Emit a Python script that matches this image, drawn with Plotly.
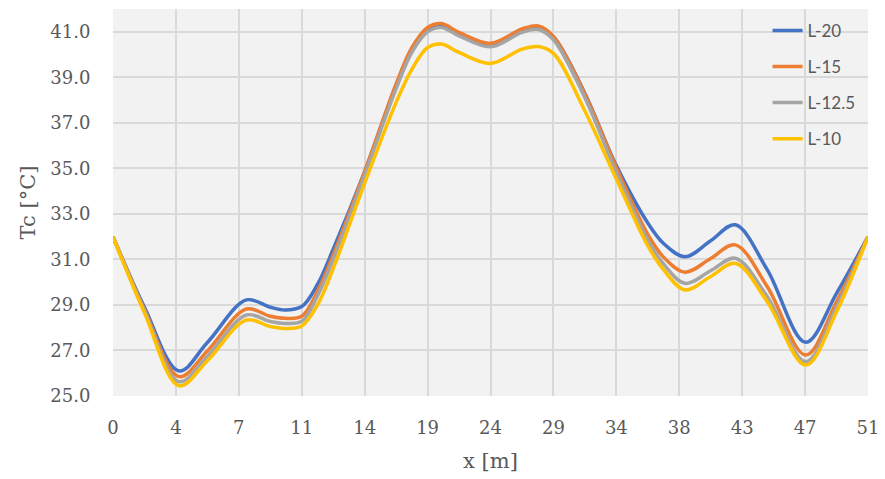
import plotly.graph_objects as go

# category labels on the x axis (evenly spaced categories)
x_labels = ["0", "4", "7", "11", "14", "19", "24", "29", "34", "38", "43", "47", "51"]
# positions along the category axis (category index units) at which values were read
x_pos = [0, 0.5, 1.05, 1.5, 2.12, 2.5, 2.73, 3.0, 3.25, 3.5, 4.0, 4.5, 4.75, 5.0, 5.22, 5.5, 6.0,
         6.5, 6.76, 7.0, 7.5, 8.0, 8.5, 8.75, 9.09, 9.5, 9.89, 10.4, 11.01, 11.5, 12]

L20 = [32.0, 28.9, 26.10, 27.35, 29.22, 28.9, 28.78, 28.93, 29.9, 31.45, 34.86, 38.64, 40.2, 41.12, 41.29,
       40.9, 40.43, 41.04, 41.19, 40.78, 38.29, 35.12, 32.6, 31.7, 31.12, 31.82, 32.52, 30.54, 27.36, 29.51, 32.0]
L15 = [32.0, 28.8, 25.85, 26.98, 28.82, 28.5, 28.41, 28.5, 29.6, 31.2, 34.86, 38.71, 40.3, 41.19, 41.36,
       40.97, 40.49, 41.12, 41.26, 40.8, 38.26, 35.04, 32.1, 31.1, 30.44, 31.04, 31.64, 29.8, 26.80, 29.14, 32.0]
L125 = [32.0, 28.75, 25.63, 26.74, 28.56, 28.27, 28.19, 28.28, 29.4, 31.0, 34.71, 38.5, 40.1, 41.0, 41.19,
        40.82, 40.34, 40.97, 41.10, 40.65, 38.1, 34.82, 31.85, 30.8, 29.95, 30.5, 31.05, 29.36, 26.51, 28.92, 32.0]
L10 = [32.0, 28.65, 25.45, 26.55, 28.34, 28.05, 27.97, 28.08, 29.0, 30.6, 34.35, 37.9, 39.35, 40.31, 40.46,
       40.09, 39.61, 40.24, 40.35, 40.05, 37.52, 34.53, 31.6, 30.55, 29.66, 30.25, 30.83, 29.14, 26.36, 28.7, 32.0]

series_names = ["L-20", "L-15", "L-12.5", "L-10"]
series_vals = [L20, L15, L125, L10]
colors = ["#4472C4", "#ED7D31", "#A5A5A5", "#FFC000"]

y_ticks = [25, 27, 29, 31, 33, 35, 37, 39, 41]

fig = go.Figure()
for name, vals, col in zip(series_names, series_vals, colors):
    fig.add_trace(go.Scatter(
        x=x_pos, y=vals, mode="lines", name=name, legendgroup=name,
        line=dict(color=col, width=3.5, shape="spline", smoothing=1.0),
    ))

serif = "DejaVu Serif"
fig.update_layout(
    width=885, height=479,
    margin=dict(l=113, r=17, t=9, b=83),
    paper_bgcolor="white",
    plot_bgcolor="#F2F2F2",
    showlegend=True,
    legend=dict(
        x=0.867, y=0.99, xanchor="left", yanchor="top",
        bgcolor="rgba(0,0,0,0)",
        font=dict(family="Lato", size=17, color="#595959"),
        tracegroupgap=11,
    ),
    xaxis=dict(
        range=[0, 12], automargin=False,
        tickmode="array", tickvals=list(range(len(x_labels))), ticktext=x_labels,
        showgrid=True, gridcolor="#D9D9D9", gridwidth=2,
        zeroline=False, showline=False,
        ticks="outside", ticklen=15, tickcolor="rgba(0,0,0,0)",
        tickfont=dict(family=serif, size=18, color="#595959"),
        title=dict(text="x [m]", font=dict(family=serif, size=21, color="#595959"), standoff=16),
    ),
    yaxis=dict(
        range=[25, 42], automargin=False,
        tickmode="array", tickvals=y_ticks, ticktext=[f"{v:.1f}" for v in y_ticks],
        showgrid=True, gridcolor="#D9D9D9", gridwidth=2,
        zeroline=False, showline=False,
        ticks="outside", ticklen=18, tickcolor="rgba(0,0,0,0)",
        tickfont=dict(family=serif, size=18, color="#595959"),
        title=dict(text="Tc [°C]", font=dict(family=serif, size=21, color="#595959"), standoff=8),
    ),
)

fig.write_html("out.html", config={"displayModeBar": False},
               post_script="document.body.style.margin='0';")
